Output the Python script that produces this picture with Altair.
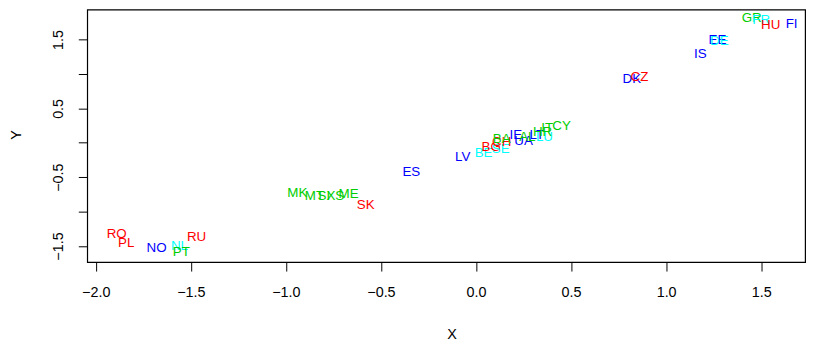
import altair as alt
import pandas as pd

labels = ["RO", "PL", "NO", "NL", "PT", "RU",
          "MK", "MT", "SI", "XS", "ME", "SK", "ES",
          "LV", "BE", "BG", "SE", "CH", "BA", "IE", "UA", "AL", "LT", "LU", "HR", "IT", "CY",
          "DK", "CZ", "IS", "EE", "DE", "GR", "FR", "HU", "FI"]
xs = [-1.89, -1.84, -1.68, -1.56, -1.55, -1.47,
      -0.94, -0.85, -0.80, -0.74, -0.67, -0.58, -0.34,
      -0.07, 0.04, 0.08, 0.13, 0.135, 0.135, 0.21, 0.25, 0.27, 0.32, 0.36, 0.35, 0.375, 0.45,
      0.82, 0.86, 1.18, 1.27, 1.28, 1.45, 1.50, 1.55, 1.66]
ys = [-1.33, -1.46, -1.53, -1.50, -1.59, -1.37,
      -0.73, -0.78, -0.78, -0.77, -0.74, -0.90, -0.42,
      -0.21, -0.15, -0.06, -0.09, 0.01, 0.06, 0.11, 0.02, 0.08, 0.12, 0.09, 0.15, 0.22, 0.25,
      0.93, 0.96, 1.29, 1.50, 1.48, 1.81, 1.79, 1.71, 1.72]
groups = ["red", "red", "blue", "cyan", "green", "red",
          "green", "green", "green", "green", "green", "red", "blue",
          "blue", "cyan", "red", "cyan", "red", "green", "blue", "blue", "green", "blue", "cyan", "green", "green", "green",
          "blue", "red", "blue", "blue", "cyan", "green", "cyan", "red", "blue"]

group_names = ["red", "green", "blue", "cyan"]
group_colors = ["#FF0000", "#00CD00", "#0000FF", "#00FFFF"]

x_ticks = [-2.0, -1.5, -1.0, -0.5, 0.0, 0.5, 1.0, 1.5]
y_ticks = [-1.5, -1.0, -0.5, 0.0, 0.5, 1.0, 1.5]

df = pd.DataFrame({"label": labels, "X": xs, "Y": ys, "grp": groups})

FONT = "Liberation Sans"

chart = alt.Chart(df).mark_text(font=FONT, fontSize=13.5, align="center", baseline="middle").encode(
    x=alt.X("X:Q",
            scale=alt.Scale(domain=[-2.045, 1.731], nice=False, zero=False),
            axis=alt.Axis(values=x_ticks, format=".1f", grid=False, tickSize=9,
                          tickColor="black", domain=False, labelFont=FONT, labelFontSize=14.5,
                          labelColor="black", labelPadding=15, labelBaseline="top",
                          title="X", titleFont=FONT, titleFontSize=14.5, titleFontWeight="normal",
                          titleColor="black", titleX=368, titleY=73, titleAlign="center",
                          titleBaseline="middle")),
    y=alt.Y("Y:Q",
            scale=alt.Scale(domain=[-1.734, 1.935], nice=False, zero=False),
            axis=alt.Axis(values=y_ticks, grid=False, tickSize=9, tickColor="black", domain=False,
                          labelExpr="datum.value % 1 != 0 ? format(datum.value, '.1f') : ''",
                          labelAngle=270, labelAlign="center", labelBaseline="bottom",
                          labelPadding=13, labelFont=FONT, labelFontSize=14.5, labelColor="black",
                          title="Y", titleFont=FONT, titleFontSize=14.5, titleFontWeight="normal",
                          titleColor="black", titleAngle=270, titleX=-71, titleY=126,
                          titleAlign="center", titleBaseline="middle")),
    color=alt.Color("grp:N", scale=alt.Scale(domain=group_names, range=group_colors), legend=None),
    text="label:N",
).properties(
    width=725, height=255,
    autosize=alt.AutoSizeParams(type="none"),
    padding={"left": 80, "top": 0, "right": 10, "bottom": 80},
).configure_view(stroke="black", strokeWidth=1.2)

chart.save("out.html", embed_options={"renderer": "svg", "actions": False})
